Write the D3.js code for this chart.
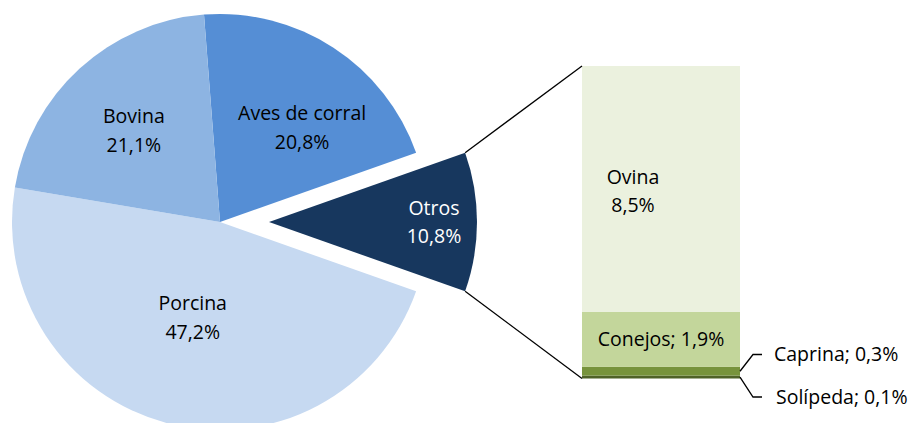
<!DOCTYPE html>
<html>
<head>
<meta charset="utf-8">
<script src="https://cdn.jsdelivr.net/npm/d3@7"></script>
<style>
  body { margin: 0; background: #fff; }
  text { font-family: "Open Sans", sans-serif; font-size: 19.5px; fill: #000; }
</style>
</head>
<body>
<div id="chart"></div>
<script>
// pie data (order clockwise starting with Aves de corral)
const pieLabels = ["Aves de corral", "Otros", "Porcina", "Bovina"];
const pieValues = [20.8, 10.8, 47.2, 21.1];
const pieColors = ["#558ed5", "#17375e", "#c6d9f1", "#8db4e2"];

// breakdown of "Otros" (bottom to top)
const barLabels = ["Solípeda", "Caprina", "Conejos", "Ovina"];
const barValues = [0.1, 0.3, 1.9, 8.5];
const barColors = ["#4f6228", "#77933c", "#c3d69b", "#ebf1de"];

const fmt = v => d3.format(".1f")(v).replace(".", ",") + "%";

const width = 917, height = 423;
const cx = 220, cy = 222, radius = 208, explode = 49;

const svg = d3.select("#chart").append("svg")
  .attr("width", width)
  .attr("height", height);

// center "Otros" on the right (90deg)
const otrosIdx = 1;
const total = d3.sum(pieValues);
const before = d3.sum(pieValues.slice(0, otrosIdx));
const startAngle = Math.PI / 2 - 2 * Math.PI * (before + pieValues[otrosIdx] / 2) / total;

const pie = d3.pie().sort(null).startAngle(startAngle).endAngle(startAngle + 2 * Math.PI);
const arcs = pie(pieValues);
const arc = d3.arc().innerRadius(0).outerRadius(radius);

// label radius / fine angle offsets (deg) per slice
const labelLayout = [
  {r: 125, da: 8},
  {r: 165, da: 0},
  {r: 99, da: 1.5},
  {r: 126, da: -0.7}
];

const gPie = svg.append("g").attr("transform", `translate(${cx},${cy})`);

arcs.forEach((a, i) => {
  const mid = (a.startAngle + a.endAngle) / 2;
  const off = i === otrosIdx ? explode : 0;
  const ox = Math.sin(mid) * off, oy = -Math.cos(mid) * off;
  const g = gPie.append("g").attr("transform", `translate(${ox},${oy})`);
  g.append("path").attr("d", arc(a)).attr("fill", pieColors[i]);

  const la = mid + labelLayout[i].da * Math.PI / 180;
  const lx = Math.sin(la) * labelLayout[i].r, ly = -Math.cos(la) * labelLayout[i].r;
  const t = g.append("text")
    .attr("text-anchor", "middle")
    .attr("x", lx).attr("y", ly)
    .style("fill", i === otrosIdx ? "#fff" : "#000");
  t.append("tspan").attr("x", lx).attr("dy", "-0.38em").text(pieLabels[i]);
  t.append("tspan").attr("x", lx).attr("dy", "1.48em").text(fmt(pieValues[i]));
});

// bar of pie
const barX = 582, barW = 158, barTop = 66, barBottom = 378.5;
const yScale = d3.scaleLinear().domain([0, d3.sum(barValues)]).range([barBottom, barTop]);
const stacked = [];
let acc = 0;
barValues.forEach((v, i) => { stacked.push({y0: acc, y1: acc + v, i}); acc += v; });

svg.selectAll("rect.seg").data(stacked).join("rect")
  .attr("class", "seg")
  .attr("x", barX).attr("width", barW)
  .attr("y", d => yScale(d.y1))
  .attr("height", d => yScale(d.y0) - yScale(d.y1))
  .attr("fill", d => barColors[d.i]);

// connector lines from exploded slice to bar
const o = arcs[otrosIdx];
const omid = (o.startAngle + o.endAngle) / 2;
const ex = cx + Math.sin(omid) * explode, ey = cy - Math.cos(omid) * explode;
const pt = ang => [ex + Math.sin(ang) * radius, ey - Math.cos(ang) * radius];
const pTop = pt(o.startAngle), pBot = pt(o.endAngle);
svg.append("line")
  .attr("x1", pTop[0]).attr("y1", pTop[1]).attr("x2", barX).attr("y2", barTop)
  .attr("stroke", "#000").attr("stroke-width", 1.3);
svg.append("line")
  .attr("x1", pBot[0]).attr("y1", pBot[1]).attr("x2", barX).attr("y2", barBottom)
  .attr("stroke", "#000").attr("stroke-width", 1.3);

// labels inside bar
const ov = stacked[3], co = stacked[2];
const ovY = (yScale(ov.y0) + yScale(ov.y1)) / 2;
const ovT = svg.append("text").attr("text-anchor", "middle").attr("x", 633).attr("y", ovY + 2);
ovT.append("tspan").attr("x", 633).attr("dy", "-0.38em").text(barLabels[3]);
ovT.append("tspan").attr("x", 633).attr("dy", "1.48em").text(fmt(barValues[3]));

svg.append("text").attr("text-anchor", "middle")
  .attr("x", barX + barW / 2)
  .attr("y", (yScale(co.y0) + yScale(co.y1)) / 2)
  .attr("dy", "0.35em")
  .text(barLabels[2] + "; " + fmt(barValues[2]));

// outside labels with leaders (Caprina up, Solípeda down)
const outside = [
  {s: stacked[1], ty: 354.5, tx: 34},
  {s: stacked[0], ty: 397, tx: 36}
];
outside.forEach(d => {
  const sy = (yScale(d.s.y0) + yScale(d.s.y1)) / 2;
  svg.append("polyline")
    .attr("points", `${barX + barW},${sy} ${barX + barW + 13},${d.ty} ${barX + barW + 22},${d.ty}`)
    .attr("fill", "none").attr("stroke", "#000").attr("stroke-width", 1.3);
  svg.append("text")
    .attr("x", barX + barW + d.tx).attr("y", d.ty).attr("dy", "0.35em")
    .text(barLabels[d.s.i] + "; " + fmt(barValues[d.s.i]));
});
</script>
</body>
</html>
